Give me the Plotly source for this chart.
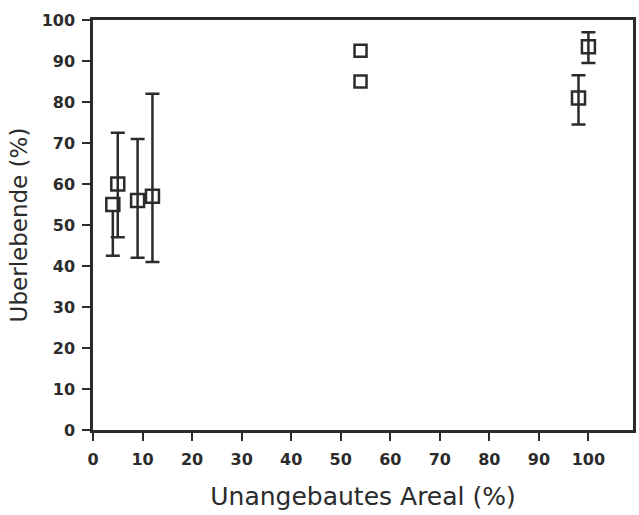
import plotly.graph_objects as go

# data
x_bars = [5, 9, 12, 98, 100]
y_bars = [60, 56, 57, 81, 93.5]
err_up = [12.5, 15, 25, 5.5, 3.5]
err_down = [13, 14, 16, 6.5, 4]

x_low = [4]
y_low = [55]
low_up = [0]
low_down = [12.5]

x_plain = [54, 54]
y_plain = [92.5, 85]

x_ticks = [0, 10, 20, 30, 40, 50, 60, 70, 80, 90, 100]
y_ticks = [0, 10, 20, 30, 40, 50, 60, 70, 80, 90, 100]

ink = "#2b2b2b"

fig = go.Figure()

# point with only a lower error bar (white filled marker hides the zero-length cap)
fig.add_trace(go.Scatter(
    x=x_low, y=y_low, mode="markers",
    marker=dict(symbol="square", size=13, color="white", line=dict(color=ink, width=2.5)),
    error_y=dict(type="data", symmetric=False, array=low_up, arrayminus=low_down,
                 color=ink, thickness=2.5, width=7),
    showlegend=False, hoverinfo="skip"))

fig.add_trace(go.Scatter(
    x=x_bars, y=y_bars, mode="markers",
    marker=dict(symbol="square-open", size=13, color=ink, line=dict(color=ink, width=2.5)),
    error_y=dict(type="data", symmetric=False, array=err_up, arrayminus=err_down,
                 color=ink, thickness=2.5, width=7),
    showlegend=False))

fig.add_trace(go.Scatter(
    x=x_plain, y=y_plain, mode="markers",
    marker=dict(symbol="square-open", size=12, color=ink, line=dict(color=ink, width=2.5)),
    showlegend=False))

tickfont = dict(family="DejaVu Sans", size=16, color=ink, weight="bold")

fig.update_layout(
    width=639, height=515,
    margin=dict(l=93, r=3, t=20, b=85),
    paper_bgcolor="white", plot_bgcolor="white",
    xaxis=dict(
        range=[0, 109], tickvals=x_ticks, ticktext=[str(v) for v in x_ticks],
        showgrid=False, zeroline=False,
        showline=True, linecolor=ink, linewidth=2.5, mirror=True,
        ticks="outside", ticklen=8, tickwidth=2, tickcolor=ink,
        tickfont=tickfont, ticklabelstandoff=5,
        title=dict(text="Unangebautes Areal (%)", standoff=20,
                   font=dict(family="DejaVu Sans", size=25, color=ink)),
    ),
    yaxis=dict(
        range=[0, 100], tickvals=y_ticks, ticktext=[str(v) for v in y_ticks],
        showgrid=False, zeroline=False,
        showline=True, linecolor=ink, linewidth=2.5, mirror=True,
        ticks="outside", ticklen=8, tickwidth=2, tickcolor=ink,
        tickfont=tickfont, ticklabelstandoff=4,
        title=dict(text="Uberlebende (%)", standoff=8,
                   font=dict(family="DejaVu Sans", size=23, color=ink)),
    ),
)

fig.write_html("out.html", config={"displayModeBar": False},
               post_script="document.body.style.margin='0';")
